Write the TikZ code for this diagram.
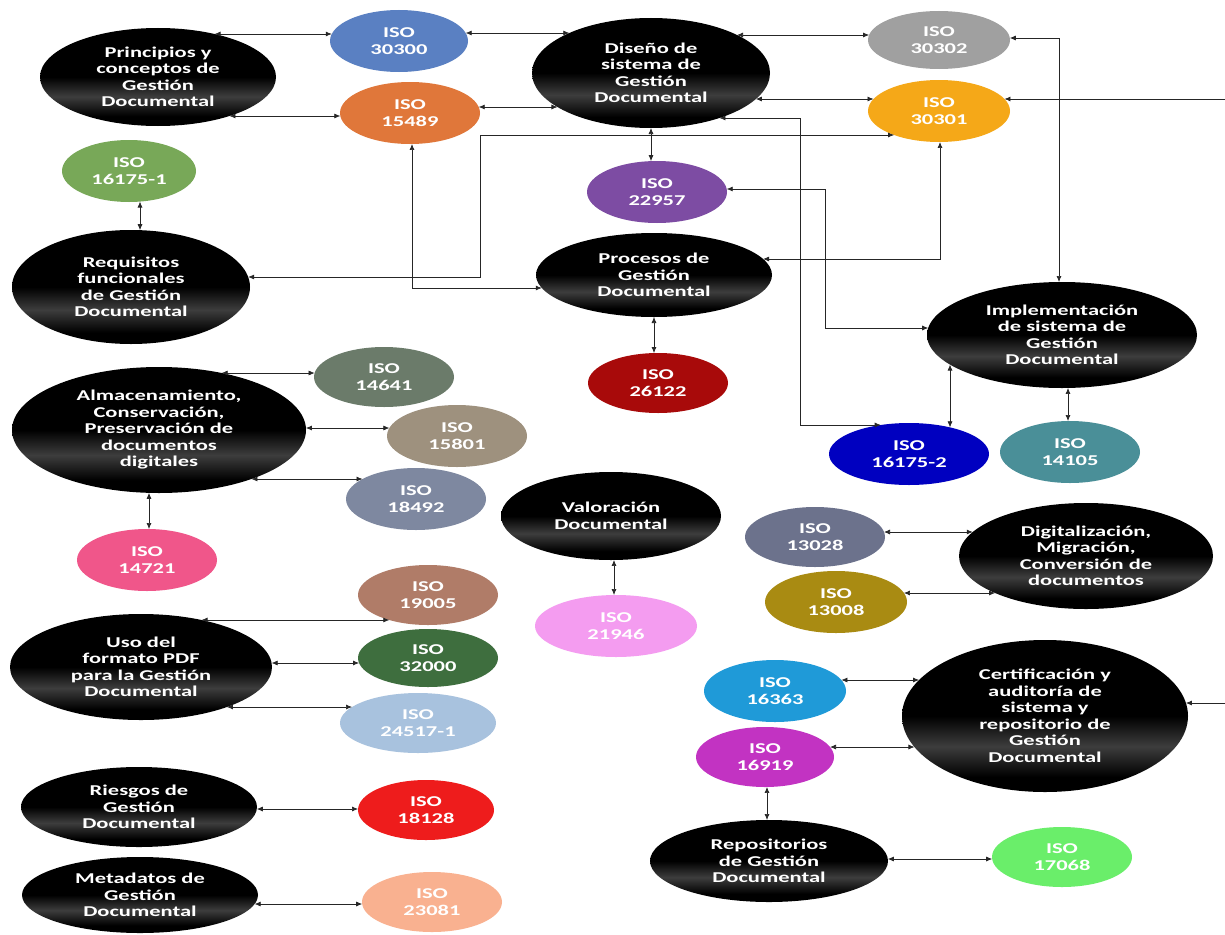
\documentclass[tikz,border=0pt]{standalone}
\usepackage{fontspec}
\newfontfamily\lbl{Carlito}[FakeStretch=1.5]
\usetikzlibrary{shapes.geometric,arrows.meta,calc}
\pgfdeclareverticalshading{blk}{100bp}{color(0bp)=(black); color(30bp)=(black); color(40bp)=(black!76!white); color(50bp)=(black); color(100bp)=(black)}
\definecolor{c30300}{HTML}{5A80C2}
\definecolor{c15489}{HTML}{E0773A}
\definecolor{c30302}{HTML}{A0A0A0}
\definecolor{c30301}{HTML}{F5A818}
\definecolor{c16175a}{HTML}{78A858}
\definecolor{c22957}{HTML}{7D4CA3}
\definecolor{c26122}{HTML}{A80A0A}
\definecolor{c16175b}{HTML}{0000C0}
\definecolor{c14105}{HTML}{4A8F98}
\definecolor{c14641}{HTML}{6B7B6A}
\definecolor{c15801}{HTML}{9E917E}
\definecolor{c18492}{HTML}{7E88A0}
\definecolor{c14721}{HTML}{F0568A}
\definecolor{c19005}{HTML}{B07C68}
\definecolor{c32000}{HTML}{3E6E3E}
\definecolor{c24517}{HTML}{A8C2DE}
\definecolor{c18128}{HTML}{EE1C1C}
\definecolor{c23081}{HTML}{F9B190}
\definecolor{c21946}{HTML}{F49CF0}
\definecolor{c13028}{HTML}{6C728C}
\definecolor{c13008}{HTML}{A98B12}
\definecolor{c16363}{HTML}{1F9AD8}
\definecolor{c16919}{HTML}{C233C2}
\definecolor{c17068}{HTML}{6AEE6A}
% border point of an ellipse node at a given image row / column
\newcommand\HB[4]{\path let \p1=(#2.center), \p2=(#2.east), \p3=(#2.north) in coordinate (#1) at ({\x1+(#3)*(\x2-\x1)*sqrt(max(0,1-((-#4pt-(\y1))/(\y3-\y1))^2))}, {-#4pt});}
\newcommand\VB[4]{\path let \p1=(#2.center), \p2=(#2.east), \p3=(#2.north) in coordinate (#1) at ({#4pt}, {\y1+(#3)*(\y3-\y1)*sqrt(max(0,1-((#4pt-(\x1))/(\x2-\x1))^2))});}
\tikzset{
  base/.style={ellipse, inner sep=0pt, outer sep=0pt, align=center, text=white,
    font=\lbl\bfseries\fontsize{15}{16.5}\selectfont},
  rr/.style 2 args={minimum width={2*#1pt}, minimum height={2*#2pt}},
  topic/.style={base, shading=blk},
  iso/.style={base, fill=#1},
  bi/.style={{Latex[length=6pt,width=5pt]}-{Latex[length=6pt,width=5pt]}, draw=black!85, line width=0.7pt}
}
\begin{document}
\begin{tikzpicture}[x=1pt,y=-1pt]
\useasboundingbox (0,0) rectangle (1225,934);
\clip (0,0) rectangle (1225,934);
\fill[white] (0,0) rectangle (1225,934);
% topic ellipses
\node[topic, rr={118}{49}] (prin) at (158,77) {Principios y\\conceptos de\\Gestión\\Documental};
\node[topic, rr={119}{55}] (dis) at (651,73) {Diseño de\\sistema de\\Gestión\\Documental};
\node[topic, rr={119}{57}] (req) at (131,287) {Requisitos\\funcionales\\de Gestión\\Documental};
\node[topic, rr={118}{42}] (proc) at (654,275) {Procesos de\\Gestión\\Documental};
\node[topic, rr={135}{53}] (impl) at (1062,335) {Implementación\\de sistema de\\Gestión\\Documental};
\node[topic, rr={147}{63}] (alm) at (159,430) {Almacenamiento,\\Conservación,\\Preservación de\\documentos\\digitales};
\node[topic, rr={110}{44}] (val) at (611,516) {Valoración\\Documental};
\node[topic, rr={127}{53}] (dig) at (1086,556) {Digitalización,\\Migración,\\Conversión de\\documentos};
\node[topic, rr={131}{53}] (uso) at (141,667) {Uso del\\formato PDF\\para la Gestión\\Documental};
\node[topic, rr={143}{76}] (cert) at (1045,716) {Certificación y\\auditoría de\\sistema y\\repositorio de\\Gestión\\Documental};
\node[topic, rr={119}{41}] (repo) at (769,861) {Repositorios\\de Gestión\\Documental};
\node[topic, rr={118}{40}] (ries) at (139,807) {Riesgos de\\Gestión\\Documental};
\node[topic, rr={118}{38}] (meta) at (140,895) {Metadatos de\\Gestión\\Documental};
% ISO ellipses
\node[iso=c30300, rr={69}{31}] (i30300) at (399,41) {ISO\\30300};
\node[iso=c15489, rr={70}{31}] (i15489) at (410,113) {ISO\\15489};
\node[iso=c30302, rr={71}{29}] (i30302) at (939,40) {ISO\\30302};
\node[iso=c30301, rr={71}{31}] (i30301) at (939,111) {ISO\\30301};
\node[iso=c16175a, rr={67}{31}] (i16175a) at (129,171) {ISO\\16175-1};
\node[iso=c22957, rr={70}{31}] (i22957) at (657,192) {ISO\\22957};
\node[iso=c26122, rr={70}{30}] (i26122) at (658,383) {ISO\\26122};
\node[iso=c16175b, rr={80}{31}] (i16175b) at (909,454) {ISO\\16175-2};
\node[iso=c14105, rr={70}{31}] (i14105) at (1070,452) {ISO\\14105};
\node[iso=c14641, rr={70}{30}] (i14641) at (384,377) {ISO\\14641};
\node[iso=c15801, rr={70}{31}] (i15801) at (457,436) {ISO\\15801};
\node[iso=c18492, rr={70}{31}] (i18492) at (416,499) {ISO\\18492};
\node[iso=c14721, rr={70}{31}] (i14721) at (147,560) {ISO\\14721};
\node[iso=c19005, rr={70}{30}] (i19005) at (428,595) {ISO\\19005};
\node[iso=c32000, rr={70}{29}] (i32000) at (428,658) {ISO\\32000};
\node[iso=c24517, rr={78}{30}] (i24517) at (418,723) {ISO\\24517-1};
\node[iso=c18128, rr={68}{30}] (i18128) at (426,810) {ISO\\18128};
\node[iso=c23081, rr={70}{30}] (i23081) at (432,902) {ISO\\23081};
\node[iso=c21946, rr={81}{31}] (i21946) at (616,626) {ISO\\21946};
\node[iso=c13028, rr={70}{30}] (i13028) at (815,537) {ISO\\13028};
\node[iso=c13008, rr={71}{31}] (i13008) at (836,602) {ISO\\13008};
\node[iso=c16363, rr={71}{31}] (i16363) at (775,691) {ISO\\16363};
\node[iso=c16919, rr={69}{30}] (i16919) at (765,757) {ISO\\16919};
\node[iso=c17068, rr={70}{30}] (i17068) at (1062,857) {ISO\\17068};
% connectors
\HB{p1}{prin}{1}{34}\HB{q1}{i30300}{-1}{34}\draw[bi] (p1) -- (q1);
\HB{p2}{prin}{1}{116}\HB{q2}{i15489}{-1}{116}\draw[bi] (p2) -- (q2);
\HB{p3}{i30300}{1}{33}\HB{q3}{dis}{-1}{33}\draw[bi] (p3) -- (q3);
\HB{p4}{i15489}{1}{107}\HB{q4}{dis}{-1}{107}\draw[bi] (p4) -- (q4);
\VB{p5}{i16175a}{-1}{140}\VB{q5}{req}{1}{140}\draw[bi] (p5) -- (q5);
\HB{p6}{req}{1}{277}\HB{q6}{i30301}{-1}{135}\draw[bi] (p6) -- (480,277) |- (q6);
\VB{p7}{i15489}{-1}{412}\HB{q7}{proc}{-1}{288}\draw[bi] (p7) |- (q7);
\VB{p8}{dis}{-1}{651}\VB{q8}{i22957}{1}{651}\draw[bi] (p8) -- (q8);
\HB{p9}{dis}{1}{35}\HB{q9}{i30302}{-1}{35}\draw[bi] (p9) -- (q9);
\HB{p10}{dis}{1}{99}\HB{q10}{i30301}{-1}{99}\draw[bi] (p10) -- (q10);
\HB{p11}{i30302}{1}{38}\VB{q11}{impl}{1}{1059}\draw[bi] (p11) -| (q11);
\HB{p12}{i30301}{1}{99}\HB{q12}{cert}{1}{703}\draw[bi] (p12) -- (1240,99) |- (q12);
\HB{p13}{dis}{1}{118}\HB{q13}{i16175b}{-1}{425}\draw[bi] (p13) -- (800,118) |- (q13);
\HB{p14}{i22957}{1}{189}\HB{q14}{impl}{-1}{328}\draw[bi] (p14) -- (825,189) |- (q14);
\HB{p15}{proc}{1}{259}\VB{q15}{i30301}{-1}{940}\draw[bi] (p15) -| (q15);
\VB{p16}{proc}{-1}{654}\VB{q16}{i26122}{1}{654}\draw[bi] (p16) -- (q16);
\VB{p17}{impl}{-1}{950}\VB{q17}{i16175b}{1}{950}\draw[bi] (p17) -- (q17);
\VB{p18}{impl}{-1}{1068}\VB{q18}{i14105}{1}{1068}\draw[bi] (p18) -- (q18);
\HB{p19}{alm}{1}{373}\HB{q19}{i14641}{-1}{373}\draw[bi] (p19) -- (q19);
\HB{p20}{alm}{1}{428}\HB{q20}{i15801}{-1}{428}\draw[bi] (p20) -- (q20);
\HB{p21}{alm}{1}{479}\HB{q21}{i18492}{-1}{479}\draw[bi] (p21) -- (q21);
\VB{p22}{alm}{-1}{149}\VB{q22}{i14721}{1}{149}\draw[bi] (p22) -- (q22);
\VB{p23}{val}{-1}{614}\VB{q23}{i21946}{1}{614}\draw[bi] (p23) -- (q23);
\HB{p24}{i13028}{1}{532}\HB{q24}{dig}{-1}{532}\draw[bi] (p24) -- (q24);
\HB{p25}{i13008}{1}{593}\HB{q25}{dig}{-1}{593}\draw[bi] (p25) -- (q25);
\HB{p26}{uso}{1}{620}\HB{q26}{i19005}{-1}{620}\draw[bi] (p26) -- (q26);
\HB{p27}{uso}{1}{663}\HB{q27}{i32000}{-1}{663}\draw[bi] (p27) -- (q27);
\HB{p28}{uso}{1}{707}\HB{q28}{i24517}{-1}{707}\draw[bi] (p28) -- (q28);
\HB{p29}{ries}{1}{809}\HB{q29}{i18128}{-1}{809}\draw[bi] (p29) -- (q29);
\HB{p30}{meta}{1}{904}\HB{q30}{i23081}{-1}{904}\draw[bi] (p30) -- (q30);
\HB{p31}{i16363}{1}{680}\HB{q31}{cert}{-1}{680}\draw[bi] (p31) -- (q31);
\HB{p32}{i16919}{1}{747}\HB{q32}{cert}{-1}{747}\draw[bi] (p32) -- (q32);
\VB{p33}{i16919}{-1}{767}\VB{q33}{repo}{1}{767}\draw[bi] (p33) -- (q33);
\HB{p34}{repo}{1}{859}\HB{q34}{i17068}{-1}{859}\draw[bi] (p34) -- (q34);
\end{tikzpicture}
\end{document}
